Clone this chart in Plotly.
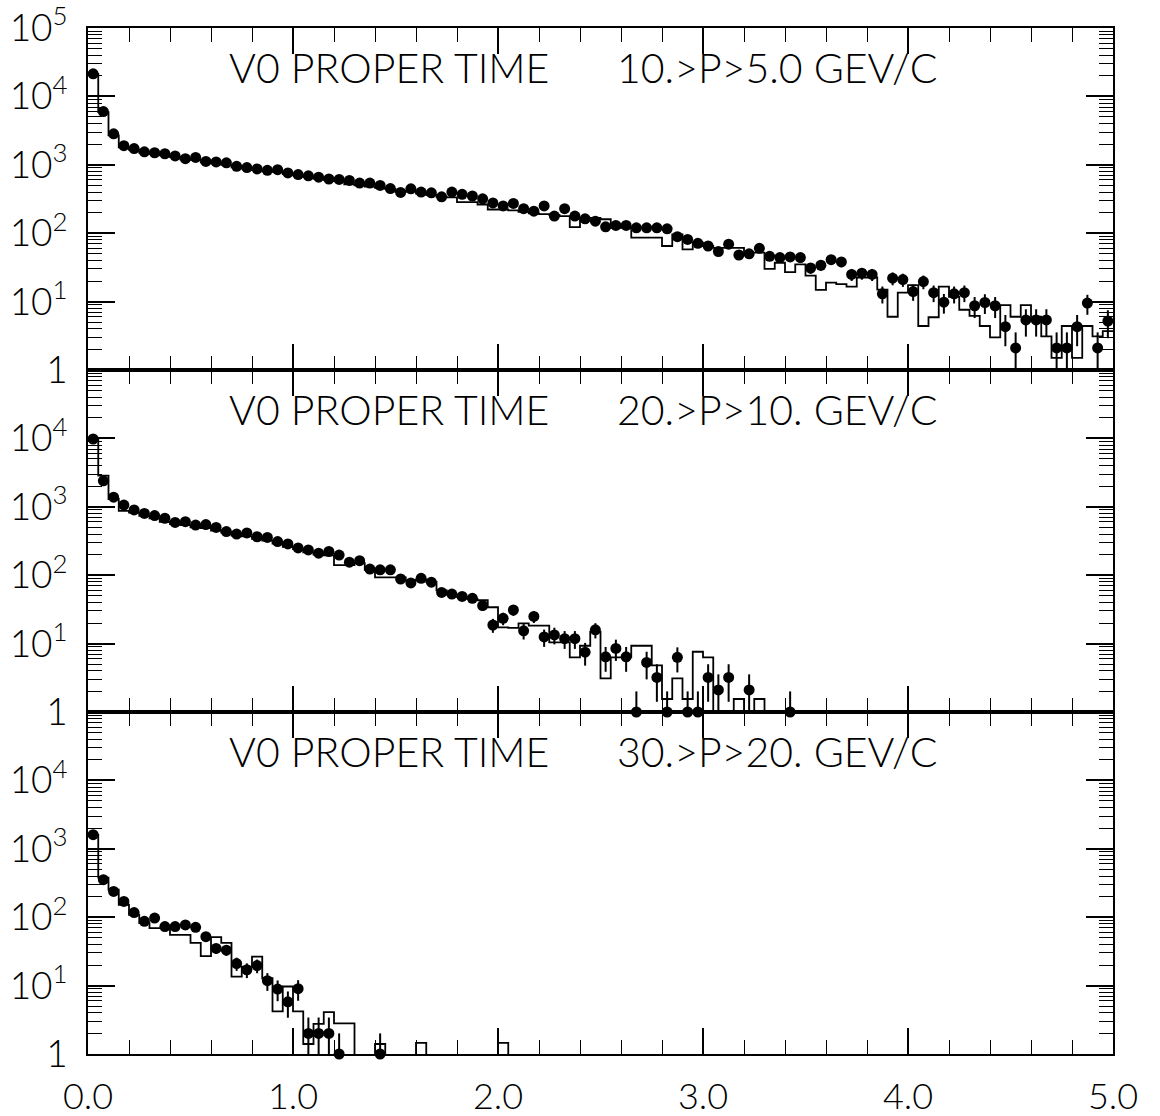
import numpy as np
import plotly.graph_objects as go

# ---------------- data ----------------
N_BINS = 100
BIN_W = 0.05
bin_edges = [round(i * BIN_W, 3) for i in range(N_BINS + 1)]
bin_centers = [round((i + 0.5) * BIN_W, 3) for i in range(N_BINS)]

titles_left = ["V0 PROPER TIME", "V0 PROPER TIME", "V0 PROPER TIME"]
titles_right = ["10.&gt;P&gt;5.0 GEV/C", "20.&gt;P&gt;10. GEV/C", "30.&gt;P&gt;20. GEV/C"]

# data points, 10 > P > 5 GeV/c
data_p5 = [21400, 6000, 2840, 1900, 1730, 1550, 1500, 1450, 1350, 1230,
           1280, 1120, 1100, 1070, 950, 910, 870, 830, 850, 760,
           720, 690, 660, 620, 610, 590, 540, 540, 500, 450,
           395, 445, 400, 390, 340, 400, 370, 350, 318, 277,
           250, 272, 228, 210, 250, 178, 228, 178, 162, 150,
           124, 130, 130, 120, 120, 120, 116, 89, 81, 71,
           65, 54, 69, 48, 50, 60, 46, 44, 45, 44,
           31, 34, 41, 38, 25, 26, 25, 13, 22, 21,
           14, 19.6, 13.5, 9.8, 13, 13.5, 8.7, 9.7, 8.7, 4.3,
           2.1, 5.4, 5.4, 5.4, 2.1, 2.1, 4.3, 9.5, 2.1, 5.2]
mc_p5 = [21400, 5900, 2700, 1800, 1650, 1500, 1430, 1380, 1300, 1200,
         1180, 1090, 1050, 1000, 920, 880, 840, 800, 790, 730,
         700, 660, 630, 600, 580, 520, 500, 480, 460, 440,
         400, 420, 380, 360, 340, 335, 285, 285, 263, 222,
         222, 215, 205, 195, 190, 185, 178, 123, 168, 168,
         160, 120, 120, 86, 86, 86, 65, 96, 58, 73,
         65, 61, 61, 61, 52, 52, 30, 37, 27, 35,
         24, 14.8, 19, 18, 16.6, 22.5, 22.5, 15, 6.0, 13.5,
         17.4, 4.4, 5.9, 16.6, 11.7, 7.6, 6.2, 4.4, 3.0, 8.9,
         6.0, 8.9, 6.0, 3.1, 1.5, 4.4, 1.5, 4.4, 3.1, 3.7]

# data points, 20 > P > 10 GeV/c
data_p10 = [9800, 2400, 1380, 1060, 900, 800, 745, 680, 590, 605,
            540, 550, 500, 435, 400, 415, 365, 357, 310, 286,
            250, 234, 210, 222, 197, 155, 163, 123, 120, 120,
            88, 77, 90, 79, 56, 53, 49, 46, 36, 18.7,
            23.4, 31, 15.4, 25, 12.5, 13.4, 11.8, 11.8, 7.5, 15.9,
            6.4, 8.5, 6.4, 1, 5.3, 3.2, 1, 6.3, 1, 1,
            3.2, 2.1, 3.2, None, 2.1, None, None, None, 1, None] + [None] * 30
mc_p10 = [9800, 2850, 1300, 870, 820, 740, 680, 600, 560, 540,
          500, 490, 450, 420, 380, 370, 340, 320, 290, 260,
          240, 215, 200, 195, 140, 140, 150, 120, 93, 93,
          93, 83, 86, 80, 60, 52, 48, 45, 43, 34,
          17.3, 17, 19.8, 18.3, 18.3, 10.4, 10.4, 6.3, 9.3, 14.9,
          3.1, 6.3, 6.3, 9.3, 9.3, 4.8, 1.55, 3.1, 1.55, 7.6,
          6.3, 0, 0, 1.55, 0, 1.55, 0, 0, 0, 0] + [0] * 30

# data points, 30 > P > 20 GeV/c
data_p20 = [1610, 354, 238, 170, 117, 87, 97, 73, 73, 77,
            71, 52, 35, 33, 21, 17, 19.6, 11.8, 8.9, 5.8,
            9, 2, 2, 2, 1, None, None, None, 1, None] + [None] * 70
mc_p20 = [1610, 380, 252, 152, 108, 82, 69, 69, 55, 55,
          42, 27, 51, 42, 13.5, 19, 26.5, 12.8, 4.2, 9.7,
          4.2, 1.4, 2.75, 4.1, 2.8, 2.8, 0, 0, 1.4, 0,
          0, 0, 1.45, 0, 0, 0, 0, 0, 0, 0,
          1.45] + [0] * 59

panels = [(data_p5, mc_p5), (data_p10, mc_p10), (data_p20, mc_p20)]

# ---------------- figure ----------------
FONT = "Lato"
fig = go.Figure()

decade_vals = [1, 10, 100, 1000, 10000, 100000]
decade_txt = ["1", "10<sup>1</sup>", "10<sup>2</sup>", "10<sup>3</sup>", "10<sup>4</sup>", "10<sup>5</sup>"]
minor_vals = [m * 10 ** d for d in range(5) for m in range(2, 10)]

domains = [[2 / 3, 1.0], [1 / 3, 2 / 3], [0.0, 1 / 3]]

for p, (dat, mc) in enumerate(panels):
    sfx = "" if p == 0 else str(p + 1)
    xa, ya = "x" + sfx, "y" + sfx

    # MC histogram (step line); empty bins drawn below the axis floor (clipped)
    mc_plot = [v if v > 0 else 0.1 for v in mc] + [mc[-1] if mc[-1] > 0 else 0.1]
    fig.add_trace(go.Scatter(
        x=bin_edges, y=mc_plot, mode="lines", line_shape="hv",
        line=dict(color="black", width=1.8), xaxis=xa, yaxis=ya,
        hoverinfo="skip", showlegend=False))

    # data points with Poisson-like error bars (stopped at the axis floor)
    xs, ys, eu, ed = [], [], [], []
    for c, v in zip(bin_centers, dat):
        if v is None:
            continue
        s = float(np.sqrt(v))
        xs.append(c)
        ys.append(v)
        eu.append(s)
        ed.append(v - max(v - s, 1.0))
    fig.add_trace(go.Scatter(
        x=xs, y=ys, mode="markers",
        marker=dict(color="black", size=11, symbol="circle"),
        error_y=dict(type="data", symmetric=False, array=eu, arrayminus=ed,
                     color="black", thickness=2, width=0),
        cliponaxis=False, xaxis=xa, yaxis=ya, showlegend=False))

    ytv = decade_vals if p == 0 else decade_vals[:5]
    ytt = decade_txt if p == 0 else decade_txt[:5]
    fig.layout["yaxis" + sfx] = dict(
        type="log", range=[0, 5], domain=domains[p], anchor=xa,
        tickmode="array", tickvals=ytv, ticktext=ytt,
        ticks="inside", ticklen=27, tickwidth=1.6, tickcolor="black",
        minor=dict(tickmode="array", tickvals=minor_vals, ticks="inside",
                   ticklen=14, tickwidth=1.4, tickcolor="black"),
        showline=True, linecolor="black", linewidth=2, mirror="allticks",
        showgrid=False, zeroline=False, automargin=False,
        ticklabeloverflow="allow",
        tickfont=dict(family=FONT, size=37, color="black", weight=300),
        ticklabelstandoff=11)
    fig.layout["xaxis" + sfx] = dict(
        range=[0, 5], domain=[0, 1], anchor=ya,
        tickmode="array", tickvals=[0, 1, 2, 3, 4, 5],
        ticktext=["0.0", "1.0", "2.0", "3.0", "4.0", "5.0"],
        showticklabels=(p == 2),
        ticks="inside", ticklen=26, tickwidth=1.6, tickcolor="black",
        minor=dict(dtick=0.2, tick0=0, ticks="inside", ticklen=14,
                   tickwidth=1.4, tickcolor="black"),
        showline=True, linecolor="black", linewidth=2, mirror="allticks",
        showgrid=False, zeroline=False, automargin=False,
        ticklabeloverflow="allow",
        tickfont=dict(family=FONT, size=36, color="black", weight=300),
        ticklabelstandoff=10)

    tfont = dict(family=FONT, size=41, color="black", weight=300)
    fig.add_annotation(x=0.68, y=4.42, xref=xa, yref=ya, text=titles_left[p],
                       showarrow=False, xanchor="left", yanchor="middle", font=tfont)
    fig.add_annotation(x=3.36, y=4.42, xref=xa, yref=ya, text=titles_right[p],
                       showarrow=False, xanchor="center", yanchor="middle", font=tfont)

fig.update_layout(
    width=1160, height=1116,
    margin=dict(l=88, r=47, t=28, b=62),
    paper_bgcolor="white", plot_bgcolor="white",
    showlegend=False)

fig.write_html("out.html")
